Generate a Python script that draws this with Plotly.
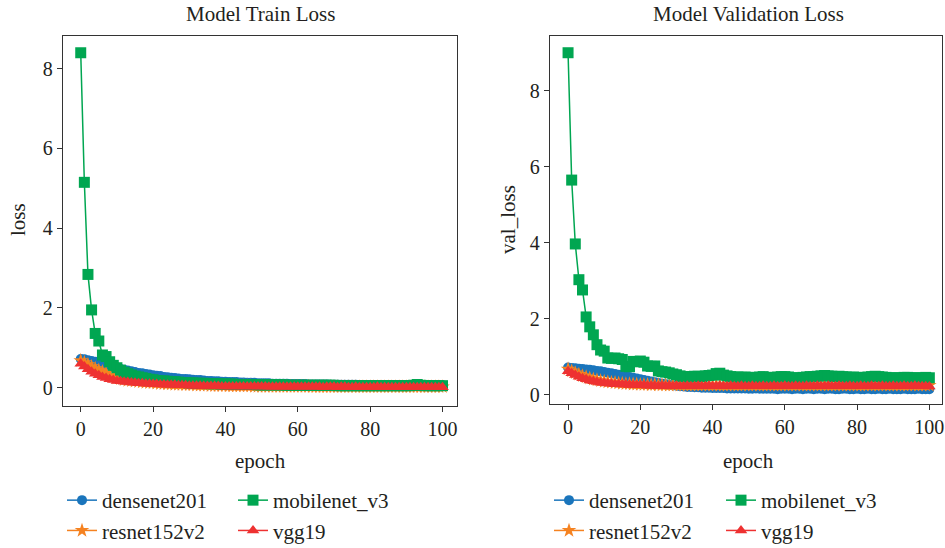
import plotly.graph_objects as go

# ---- training history: loss per epoch (0..100) ----
epochs = list(range(101))

train_densenet201 = [
    0.72, 0.71, 0.69, 0.67, 0.65, 0.62, 0.60, 0.57, 0.55, 0.52,
    0.50, 0.47, 0.45, 0.43, 0.41, 0.39, 0.37, 0.36, 0.34, 0.33,
    0.31, 0.30, 0.29, 0.27, 0.26, 0.25, 0.24, 0.23, 0.22, 0.22,
    0.21, 0.20, 0.19, 0.19, 0.18, 0.17, 0.17, 0.16, 0.16, 0.15,
    0.15, 0.14, 0.14, 0.14, 0.13, 0.13, 0.12, 0.12, 0.12, 0.11,
    0.11, 0.11, 0.11, 0.10, 0.10, 0.10, 0.10, 0.10, 0.09, 0.09,
    0.09, 0.09, 0.09, 0.08, 0.08, 0.08, 0.08, 0.08, 0.08, 0.07,
    0.07, 0.07, 0.07, 0.07, 0.07, 0.07, 0.07, 0.06, 0.06, 0.06,
    0.06, 0.06, 0.06, 0.06, 0.06, 0.06, 0.06, 0.05, 0.05, 0.05,
    0.05, 0.05, 0.05, 0.05, 0.05, 0.05, 0.05, 0.05, 0.05, 0.04, 0.04,
]
train_resnet152v2 = [
    0.68, 0.63, 0.58, 0.53, 0.48, 0.44, 0.40, 0.36, 0.31, 0.27,
    0.24, 0.22, 0.20, 0.18, 0.17, 0.16, 0.15, 0.14, 0.13, 0.12,
    0.12, 0.11, 0.10, 0.10, 0.09, 0.09, 0.08, 0.08, 0.08, 0.07,
    0.07, 0.07, 0.06, 0.06, 0.06, 0.06, 0.05, 0.05, 0.05, 0.05,
    0.05, 0.04, 0.04, 0.04, 0.04, 0.04, 0.04, 0.04, 0.03, 0.03,
    0.03, 0.03, 0.03, 0.03, 0.03, 0.03, 0.03, 0.03, 0.03, 0.03,
    0.03, 0.03, 0.03, 0.03, 0.02, 0.02, 0.02, 0.02, 0.02, 0.02,
    0.02, 0.02, 0.02, 0.02, 0.02, 0.02, 0.02, 0.02, 0.02, 0.02,
    0.02, 0.02, 0.02, 0.02, 0.02, 0.02, 0.02, 0.02, 0.02, 0.02,
    0.02, 0.02, 0.02, 0.02, 0.02, 0.02, 0.02, 0.02, 0.02, 0.02, 0.02,
]
train_mobilenet_v3 = [
    8.40, 5.15, 2.84, 1.95, 1.36, 1.17, 0.82, 0.78, 0.65, 0.56,
    0.50, 0.44, 0.39, 0.35, 0.32, 0.29, 0.27, 0.25, 0.23, 0.21,
    0.20, 0.18, 0.17, 0.17, 0.16, 0.15, 0.15, 0.14, 0.13, 0.13,
    0.12, 0.12, 0.11, 0.11, 0.11, 0.10, 0.10, 0.10, 0.10, 0.09,
    0.09, 0.09, 0.09, 0.08, 0.08, 0.08, 0.08, 0.08, 0.08, 0.07,
    0.07, 0.07, 0.07, 0.07, 0.07, 0.07, 0.07, 0.06, 0.06, 0.06,
    0.06, 0.06, 0.06, 0.06, 0.06, 0.06, 0.06, 0.06, 0.06, 0.06,
    0.06, 0.05, 0.05, 0.05, 0.05, 0.05, 0.05, 0.05, 0.05, 0.05,
    0.05, 0.05, 0.05, 0.05, 0.05, 0.05, 0.05, 0.05, 0.05, 0.05,
    0.05, 0.05, 0.06, 0.08, 0.06, 0.05, 0.05, 0.05, 0.05, 0.05, 0.05,
]
train_vgg19 = [
    0.60, 0.53, 0.46, 0.40, 0.35, 0.31, 0.27, 0.24, 0.21, 0.19,
    0.17, 0.16, 0.15, 0.14, 0.13, 0.12, 0.11, 0.11, 0.10, 0.10,
    0.09, 0.09, 0.08, 0.08, 0.07, 0.07, 0.07, 0.06, 0.06, 0.06,
    0.05, 0.05, 0.05, 0.05, 0.04, 0.04, 0.04, 0.04, 0.04, 0.03,
    0.03, 0.03, 0.03, 0.03, 0.03, 0.03, 0.03, 0.03, 0.03, 0.03,
    0.03, 0.03, 0.02, 0.02, 0.02, 0.02, 0.02, 0.02, 0.02, 0.02,
    0.02, 0.02, 0.02, 0.02, 0.02, 0.02, 0.02, 0.01, 0.02, 0.02,
    0.02, 0.01, 0.02, 0.02, 0.01, 0.01, 0.02, 0.01, 0.01, 0.01,
    0.01, 0.01, 0.02, 0.01, 0.01, 0.01, 0.01, 0.01, 0.01, 0.01,
    0.01, 0.01, 0.01, 0.01, 0.01, 0.01, 0.01, 0.01, 0.01, 0.01, 0.01,
]

val_densenet201 = [
    0.72, 0.71, 0.70, 0.69, 0.68, 0.67, 0.66, 0.65, 0.63, 0.62,
    0.60, 0.58, 0.57, 0.55, 0.53, 0.51, 0.49, 0.47, 0.45, 0.43,
    0.41, 0.39, 0.37, 0.35, 0.33, 0.31, 0.29, 0.28, 0.26, 0.25,
    0.24, 0.23, 0.22, 0.21, 0.21, 0.20, 0.20, 0.19, 0.19, 0.19,
    0.18, 0.18, 0.18, 0.18, 0.17, 0.17, 0.17, 0.17, 0.17, 0.17,
    0.16, 0.16, 0.17, 0.16, 0.16, 0.16, 0.16, 0.16, 0.15, 0.16,
    0.16, 0.16, 0.15, 0.16, 0.16, 0.15, 0.16, 0.16, 0.15, 0.16,
    0.16, 0.15, 0.16, 0.16, 0.15, 0.15, 0.16, 0.16, 0.15, 0.15,
    0.16, 0.15, 0.15, 0.16, 0.15, 0.15, 0.16, 0.15, 0.15, 0.16,
    0.15, 0.15, 0.15, 0.16, 0.15, 0.15, 0.15, 0.16, 0.15, 0.15, 0.15,
]
val_resnet152v2 = [
    0.68, 0.63, 0.58, 0.54, 0.50, 0.47, 0.44, 0.41, 0.39, 0.37,
    0.35, 0.34, 0.33, 0.32, 0.31, 0.30, 0.29, 0.29, 0.28, 0.28,
    0.27, 0.27, 0.27, 0.26, 0.27, 0.26, 0.26, 0.26, 0.25, 0.26,
    0.26, 0.25, 0.26, 0.25, 0.25, 0.26, 0.25, 0.25, 0.26, 0.25,
    0.25, 0.26, 0.25, 0.25, 0.25, 0.26, 0.25, 0.25, 0.25, 0.26,
    0.25, 0.25, 0.26, 0.25, 0.25, 0.25, 0.26, 0.25, 0.25, 0.25,
    0.26, 0.25, 0.25, 0.25, 0.26, 0.25, 0.25, 0.25, 0.26, 0.25,
    0.25, 0.26, 0.25, 0.25, 0.25, 0.26, 0.25, 0.25, 0.25, 0.26,
    0.25, 0.25, 0.25, 0.26, 0.25, 0.25, 0.25, 0.26, 0.25, 0.25,
    0.25, 0.26, 0.25, 0.25, 0.25, 0.26, 0.25, 0.25, 0.25, 0.25, 0.25,
]
val_mobilenet_v3 = [
    9.00, 5.65, 3.97, 3.03, 2.76, 2.05, 1.79, 1.58, 1.32, 1.18,
    1.15, 0.97, 0.96, 0.97, 0.95, 0.93, 0.75, 0.74, 0.88, 0.87,
    0.89, 0.86, 0.76, 0.75, 0.76, 0.63, 0.61, 0.60, 0.58, 0.55,
    0.53, 0.50, 0.48, 0.47, 0.48, 0.49, 0.49, 0.48, 0.50, 0.51,
    0.52, 0.56, 0.57, 0.52, 0.50, 0.48, 0.47, 0.47, 0.46, 0.47,
    0.46, 0.45, 0.46, 0.47, 0.48, 0.46, 0.45, 0.46, 0.47, 0.48,
    0.48, 0.47, 0.45, 0.44, 0.45, 0.46, 0.47, 0.48, 0.48, 0.49,
    0.50, 0.51, 0.50, 0.49, 0.48, 0.49, 0.48, 0.47, 0.46, 0.47,
    0.46, 0.45, 0.46, 0.47, 0.48, 0.49, 0.48, 0.47, 0.46, 0.45,
    0.45, 0.44, 0.45, 0.46, 0.46, 0.45, 0.45, 0.44, 0.45, 0.46, 0.45,
]
val_vgg19 = [
    0.62, 0.57, 0.52, 0.48, 0.44, 0.41, 0.38, 0.36, 0.34, 0.32,
    0.31, 0.30, 0.29, 0.28, 0.28, 0.27, 0.27, 0.26, 0.26, 0.25,
    0.25, 0.25, 0.24, 0.24, 0.24, 0.23, 0.24, 0.23, 0.24, 0.23,
    0.24, 0.23, 0.23, 0.24, 0.23, 0.23, 0.24, 0.23, 0.23, 0.24,
    0.23, 0.23, 0.24, 0.23, 0.23, 0.24, 0.23, 0.23, 0.24, 0.23,
    0.23, 0.24, 0.23, 0.23, 0.24, 0.23, 0.23, 0.24, 0.23, 0.23,
    0.24, 0.23, 0.23, 0.24, 0.23, 0.23, 0.24, 0.23, 0.23, 0.24,
    0.23, 0.23, 0.24, 0.23, 0.23, 0.24, 0.23, 0.23, 0.24, 0.23,
    0.23, 0.24, 0.23, 0.23, 0.24, 0.23, 0.23, 0.24, 0.23, 0.23,
    0.24, 0.23, 0.23, 0.24, 0.23, 0.23, 0.24, 0.23, 0.23, 0.23, 0.22,
]

x_ticks = [0, 20, 40, 60, 80, 100]
y_ticks = [0, 2, 4, 6, 8]

# model name -> (colour, marker symbol, marker size); listed in drawing order
models = [
    ("densenet201", "#1a75bc", "circle", 10),
    ("resnet152v2", "#f58220", "star", 11),
    ("mobilenet_v3", "#00a651", "square", 11),
    ("vgg19", "#ee3131", "triangle-up", 11),
]
train_series = {
    "densenet201": train_densenet201,
    "resnet152v2": train_resnet152v2,
    "mobilenet_v3": train_mobilenet_v3,
    "vgg19": train_vgg19,
}
val_series = {
    "densenet201": val_densenet201,
    "resnet152v2": val_resnet152v2,
    "mobilenet_v3": val_mobilenet_v3,
    "vgg19": val_vgg19,
}
# two-column legend per panel: first column densenet/resnet, second mobilenet/vgg
legend_column = {"densenet201": 0, "resnet152v2": 0, "mobilenet_v3": 1, "vgg19": 1}

FONT = "Liberation Serif"
TEXT = "#231f20"
W, H = 945, 548


def px_x(p):
    return p / W


def px_y(p):
    return 1 - p / H


fig = go.Figure()

panels = [
    ("x", "y", train_series, ("legend", "legend2")),
    ("x2", "y2", val_series, ("legend3", "legend4")),
]
for xa, ya, series, legends in panels:
    for name, color, symbol, size in models:
        fig.add_trace(go.Scatter(
            x=epochs, y=series[name], xaxis=xa, yaxis=ya,
            mode="lines+markers", name=name,
            line=dict(color=color, width=1.5),
            marker=dict(symbol=symbol, size=size, color=color,
                        line=dict(width=0)),
            legend=legends[legend_column[name]],
        ))

axis_common = dict(
    showline=True, linecolor="#333333", linewidth=1.3, mirror=True,
    ticks="outside", ticklen=5, tickwidth=1.2, tickcolor="#333333",
    showgrid=False, zeroline=False,
    tickfont=dict(family=FONT, size=20, color=TEXT),
)

fig.update_layout(
    width=W, height=H,
    margin=dict(l=0, r=0, t=0, b=0, autoexpand=False),
    paper_bgcolor="white", plot_bgcolor="white",
    showlegend=True,
    xaxis=dict(domain=[px_x(63), px_x(457)], range=[-4.9, 104],
               tickvals=x_ticks, anchor="y", **axis_common),
    yaxis=dict(domain=[px_y(406), px_y(36)], range=[-0.46, 8.82],
               tickvals=y_ticks, anchor="x", **axis_common),
    xaxis2=dict(domain=[px_x(550), px_x(942)], range=[-5, 103.5],
                tickvals=x_ticks, anchor="y2", **axis_common),
    yaxis2=dict(domain=[px_y(404), px_y(36)], range=[-0.24, 9.44],
                tickvals=y_ticks, anchor="x2", **axis_common),
)

legend_style = dict(
    orientation="v", xanchor="left", yanchor="top",
    bgcolor="rgba(0,0,0,0)", borderwidth=0,
    font=dict(family=FONT, size=21, color=TEXT),
    itemsizing="trace", tracegroupgap=0,
)
fig.update_layout(
    legend=dict(x=px_x(62), y=px_y(480), **legend_style),
    legend2=dict(x=px_x(233), y=px_y(480), **legend_style),
    legend3=dict(x=px_x(549), y=px_y(480), **legend_style),
    legend4=dict(x=px_x(721), y=px_y(480), **legend_style),
)

# panel titles and axis titles
labels = [
    ("Model Train Loss", 260, 14, 0),
    ("Model Validation Loss", 748, 14, 0),
    ("epoch", 260, 461, 0),
    ("epoch", 748, 461, 0),
    ("loss", 18, 220, -90),
    ("val_loss", 508, 220, -90),
]
for text, xp, yp, ang in labels:
    fig.add_annotation(
        text=text, x=px_x(xp), y=px_y(yp), xref="paper", yref="paper",
        xanchor="center", yanchor="middle", showarrow=False, textangle=ang,
        font=dict(family=FONT, size=21, color=TEXT),
    )

fig.write_html("out.html")
